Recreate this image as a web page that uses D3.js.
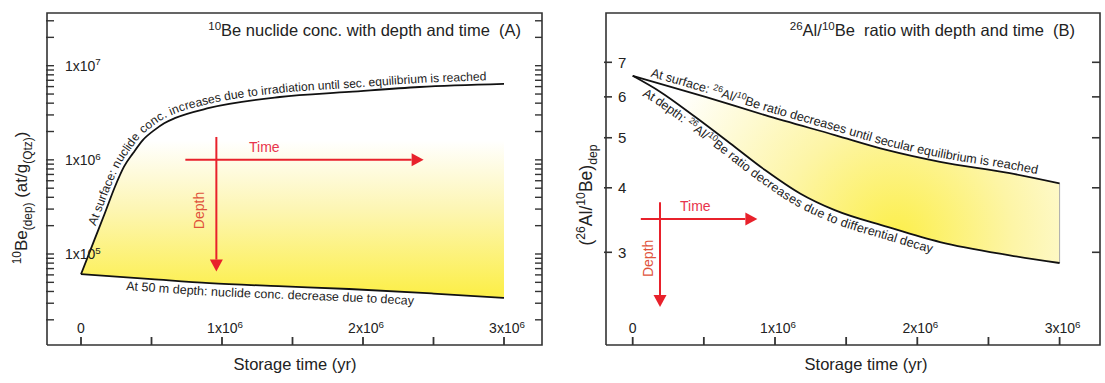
<!DOCTYPE html>
<html>
<head>
<meta charset="utf-8">
<script src="https://cdn.jsdelivr.net/npm/d3@7"></script>
<style>
  body { margin: 0; background: #fff; }
  svg { display: block; font-family: "Liberation Sans", Arial, sans-serif; }
  svg text { white-space: pre; }
</style>
</head>
<body>
<div id="chart"></div>
<script>
var W = 1105, H = 383;

// panel A: 10Be concentration (at/g) vs storage time (yr)
var surfTimeA = [0, 0.095e6, 0.169e6, 0.24e6, 0.305e6, 0.37e6, 0.44e6, 0.52e6, 0.59e6, 0.67e6, 0.91e6, 1.41e6, 1.9e6, 2.4e6, 3.0e6];
var surfBeA   = [6.1e4, 1.41e5, 2.71e5, 5.15e5, 8.47e5, 1.18e6, 1.63e6, 2.07e6, 2.45e6, 2.79e6, 3.56e6, 4.65e6, 5.26e6, 5.94e6, 6.4e6];
var depthTimeA = [0, 0.5e6, 0.91e6, 1.4e6, 1.9e6, 2.5e6, 3.0e6];
var depthBeA   = [6.1e4, 5.4e4, 4.9e4, 4.55e4, 4.25e4, 3.8e4, 3.42e4];
var fillTopA = 1.6e6;

// panel B: 26Al/10Be ratio vs storage time (yr)
var surfTimeB = [0, 0.511e6, 0.93e6, 1.42e6, 1.79e6, 2.16e6, 2.65e6, 3.0e6];
var surfRatioB = [6.59, 6.0, 5.53, 5.06, 4.73, 4.49, 4.27, 4.08];
var depthTimeB = [0, 0.192e6, 0.438e6, 0.684e6, 0.93e6, 1.176e6, 1.42e6, 1.79e6, 2.16e6, 2.65e6, 3.0e6];
var depthRatioB = [6.59, 6.14, 5.49, 4.88, 4.33, 3.90, 3.62, 3.36, 3.14, 2.96, 2.86];

var xTicks = [0, 0.5e6, 1e6, 1.5e6, 2e6, 2.5e6, 3e6];
var xLabels = [0, 1e6, 2e6, 3e6];
var yMajorA = [1e5, 1e6, 1e7];
var yTicksB = [3, 4, 5, 6, 7];

// arrows: [time, value] start/end
var timeArrowA = [[0.74e6, 1e6], [2.43e6, 1e6]];
var depthArrowA = [[0.96e6, 1.75e6], [0.96e6, 6.5e4]];
var timeArrowB = [[0.057e6, 3.48], [0.876e6, 3.48]];
var depthArrowB = [[0.192e6, 3.75], [0.192e6, 2.35]];

var svg = d3.select("#chart").append("svg")
    .attr("width", W)
    .attr("height", H);
var defs = svg.append("defs");

var red = "#e8212b";
var ink = "#222";

// rich text: parts = [[text, "sup"|"sub"|undefined], ...]
function rich(sel, parts, fs, base) {
    var shift = base || 0;
    var first = true;
    parts.forEach(function (p) {
        var target = (base || 0) + (p[1] === "sup" ? -fs * 0.38 : p[1] === "sub" ? fs * 0.3 : 0);
        var t = sel.append("tspan")
            .attr("font-size", p[1] ? fs * 0.7 : fs)
            .text(p[0]);
        t.attr("dy", first ? target : target - shift);
        first = false;
        shift = target;
    });
}

function measure(parts, fs) {
    var t = svg.append("text").attr("visibility", "hidden");
    rich(t, parts, fs, 0);
    var w = t.node().getComputedTextLength();
    t.remove();
    return w;
}

function frame(g, f) {
    g.append("path")
        .attr("d", "M" + f.l + "," + f.b + "V" + f.t + "H" + f.r + "V" + f.b + "H" + f.l)
        .attr("fill", "none")
        .attr("stroke", "#333")
        .attr("stroke-width", 1.6);
}

function xAxis(g, x, f, titleX) {
    g.selectAll(".xt").data(xTicks).enter().append("line")
        .attr("x1", function (d) { return x(d); })
        .attr("x2", function (d) { return x(d); })
        .attr("y1", f.b)
        .attr("y2", f.b - 8)
        .attr("stroke", "#333")
        .attr("stroke-width", 1.8);
    g.selectAll(".xl").data(xLabels).enter().append("text")
        .attr("x", function (d) { return x(d) + (d === 0 ? 0 : 3); })
        .attr("y", 333)
        .attr("text-anchor", "middle")
        .attr("fill", ink)
        .each(function (d) {
            var s = d3.select(this);
            if (d === 0) { s.attr("font-size", 14).text("0"); return; }
            rich(s, [[(d / 1e6) + "x10"], ["6", "sup"]], 14);
        });
    g.append("text")
        .attr("x", titleX)
        .attr("y", 370)
        .attr("text-anchor", "middle")
        .attr("font-size", 16.5)
        .attr("fill", ink)
        .text("Storage time (yr)");
}

function arrow(g, pts, x, y) {
    var p0 = [x(pts[0][0]), y(pts[0][1])];
    var p1 = [x(pts[1][0]), y(pts[1][1])];
    var dx = p1[0] - p0[0], dy = p1[1] - p0[1];
    var len = Math.sqrt(dx * dx + dy * dy);
    var ux = dx / len, uy = dy / len;
    var hl = 12, hw = 6.5;
    var bx = p1[0] - ux * hl, by = p1[1] - uy * hl;
    g.append("line")
        .attr("x1", p0[0]).attr("y1", p0[1])
        .attr("x2", bx).attr("y2", by)
        .attr("stroke", red)
        .attr("stroke-width", 2);
    g.append("path")
        .attr("d", "M" + p1[0] + "," + p1[1] +
            "L" + (bx - uy * hw) + "," + (by + ux * hw) +
            "L" + (bx + uy * hw) + "," + (by - ux * hw) + "Z")
        .attr("fill", red);
}

// text along a curve, word by word, sized so it covers targetLen px of the path
function curveLabel(g, id, pathD, parts, offset, base, targetLen) {
    defs.append("path").attr("id", id).attr("d", pathD);
    var fs = 12 * targetLen / measure(parts, 12);
    var sw = measure([["a a"]], fs) - measure([["aa"]], fs);

    var chunks = [], cur = [];
    parts.forEach(function (p) {
        var pieces = p[0].split(" ");
        pieces.forEach(function (s, i) {
            if (i > 0) { if (cur.length) chunks.push(cur); cur = []; }
            if (s.length) cur.push([s, p[1]]);
        });
    });
    if (cur.length) chunks.push(cur);

    var pos = offset;
    var lbl = g.append("g");
    chunks.forEach(function (c) {
        var tp = lbl.append("text").attr("fill", ink)
            .append("textPath")
            .attr("href", "#" + id)
            .attr("startOffset", pos);
        rich(tp, c, fs, base * fs / 12);
        pos += measure(c, fs) + sw;
    });
}

// ---------------- panel A ----------------
var fA = { l: 47, r: 542, t: 13, b: 345 };
var xA = d3.scaleLinear().domain([0, 3e6]).range([81, 504]);
var yA = d3.scaleLog().domain([1e5, 1e7]).range([254, 65.7]);
var gA = svg.append("g");

var surfA = surfTimeA.map(function (t, i) { return [t, surfBeA[i]]; });
var deepA = depthTimeA.map(function (t, i) { return [t, depthBeA[i]]; });

var lineA = d3.line()
    .x(function (d) { return xA(d[0]); })
    .y(function (d) { return yA(d[1]); })
    .curve(d3.curveMonotoneX);

var gradA = defs.append("linearGradient")
    .attr("id", "gradA")
    .attr("gradientUnits", "userSpaceOnUse")
    .attr("x1", 0).attr("x2", 0)
    .attr("y1", yA(fillTopA)).attr("y2", 292);
gradA.append("stop").attr("offset", 0).attr("stop-color", "#ffffff");
gradA.append("stop").attr("offset", 0.45).attr("stop-color", "#fdf6b4");
gradA.append("stop").attr("offset", 1).attr("stop-color", "#fcef4c");

defs.append("clipPath").attr("id", "clipTopA")
    .append("rect")
    .attr("x", xA(0)).attr("y", yA(fillTopA))
    .attr("width", xA(3e6) - xA(0)).attr("height", fA.b - yA(fillTopA));
defs.append("clipPath").attr("id", "clipDeepA")
    .append("path")
    .attr("d", d3.area()
        .x(function (d) { return xA(d[0]); })
        .y0(fA.t)
        .y1(function (d) { return yA(d[1]); })
        .curve(d3.curveMonotoneX)(deepA));

gA.append("g").attr("clip-path", "url(#clipTopA)")
    .append("g").attr("clip-path", "url(#clipDeepA)")
    .append("path")
    .attr("d", d3.area()
        .x(function (d) { return xA(d[0]); })
        .y0(fA.b)
        .y1(function (d) { return yA(d[1]); })
        .curve(d3.curveMonotoneX)(surfA))
    .attr("fill", "url(#gradA)");

gA.append("path").attr("d", lineA(surfA))
    .attr("fill", "none").attr("stroke", "#111").attr("stroke-width", 1.8);
gA.append("path").attr("d", lineA(deepA))
    .attr("fill", "none").attr("stroke", "#111").attr("stroke-width", 1.8);

frame(gA, fA);

// log ticks on both sides
var yTickA = yA.copy().domain([yA.invert(fA.b - 1), yA.invert(fA.t + 1)]).ticks();
[fA.l, fA.r].forEach(function (x0, k) {
    gA.selectAll(".yt" + k).data(yTickA).enter().append("line")
        .attr("x1", x0 - (k ? 0 : 1))
        .attr("x2", x0 + (k ? -7 : 7))
        .attr("y1", function (d) { return yA(d); })
        .attr("y2", function (d) { return yA(d); })
        .attr("stroke", "#333")
        .attr("stroke-width", 1.4);
});
gA.selectAll(".yl").data(yMajorA).enter().append("text")
    .attr("x", 65)
    .attr("y", function (d) { return yA(d) + 5; })
    .attr("fill", ink)
    .each(function (d) {
        rich(d3.select(this), [["1x10"], [String(Math.round(Math.log10(d))), "sup"]], 14);
    });

xAxis(gA, xA, fA, 295);

var titleA = gA.append("text")
    .attr("x", 521).attr("y", 36)
    .attr("text-anchor", "end")
    .attr("fill", ink);
rich(titleA, [["10", "sup"], ["Be nuclide conc. with depth and time  (A)"]], 16.5);

var ytA = gA.append("text")
    .attr("transform", "translate(27,198) rotate(-90)")
    .attr("text-anchor", "middle")
    .attr("fill", ink);
rich(ytA, [["10", "sup"], ["Be"], ["(dep)", "sub"], [" (at/g"], ["(Qtz)", "sub"], [")"]], 17);

arrow(gA, timeArrowA, xA, yA);
arrow(gA, depthArrowA, xA, yA);
gA.append("text")
    .attr("x", xA(1.3e6)).attr("y", yA(1e6) - 8)
    .attr("text-anchor", "middle")
    .attr("font-size", 14)
    .attr("fill", "#e8344c")
    .text("Time");
gA.append("text")
    .attr("transform", "translate(" + (xA(0.96e6) - 12) + "," + yA(2.9e5) + ") rotate(-90)")
    .attr("text-anchor", "middle")
    .attr("font-size", 14)
    .attr("fill", "#e0533c")
    .text("Depth");

curveLabel(gA, "pSurfA", lineA(surfA),
    [["At surface: nuclide conc. increases due to irradiation until sec. equilibrium is reached"]],
    50, -4, 452);
curveLabel(gA, "pDeepA", lineA(deepA),
    [["At 50 m depth: nuclide conc. decrease due to decay"]],
    46, 12, 288);

// ---------------- panel B ----------------
var fB = { l: 606, r: 1100, t: 13, b: 345 };
var xB = d3.scaleLinear().domain([0, 3e6]).range([632.7, 1059.6]);
var yB = d3.scaleLog().domain([3, 7]).range([252.3, 62.3]);
var gB = svg.append("g");

var surfB = surfTimeB.map(function (t, i) { return [t, surfRatioB[i]]; });
var deepB = depthTimeB.map(function (t, i) { return [t, depthRatioB[i]]; });

var lineB = d3.line()
    .x(function (d) { return xB(d[0]); })
    .y(function (d) { return yB(d[1]); })
    .curve(d3.curveMonotoneX);

var gradB = defs.append("radialGradient")
    .attr("id", "gradB")
    .attr("gradientUnits", "userSpaceOnUse")
    .attr("cx", xB(1.85e6)).attr("cy", yB(3.2))
    .attr("r", 260);
gradB.append("stop").attr("offset", 0).attr("stop-color", "#fcef4a");
gradB.append("stop").attr("offset", 0.45).attr("stop-color", "#fdf5a6");
gradB.append("stop").attr("offset", 1).attr("stop-color", "#ffffff");

defs.append("clipPath").attr("id", "clipDeepB")
    .append("path")
    .attr("d", d3.area()
        .x(function (d) { return xB(d[0]); })
        .y0(fB.t)
        .y1(function (d) { return yB(d[1]); })
        .curve(d3.curveMonotoneX)(deepB));

gB.append("g").attr("clip-path", "url(#clipDeepB)")
    .append("path")
    .attr("d", d3.area()
        .x(function (d) { return xB(d[0]); })
        .y0(fB.b)
        .y1(function (d) { return yB(d[1]); })
        .curve(d3.curveMonotoneX)(surfB))
    .attr("fill", "url(#gradB)");

gB.append("line")
    .attr("x1", xB(3e6)).attr("x2", xB(3e6))
    .attr("y1", yB(surfRatioB[surfRatioB.length - 1]))
    .attr("y2", yB(depthRatioB[depthRatioB.length - 1]))
    .attr("stroke", "#aaa")
    .attr("stroke-width", 1);

gB.append("path").attr("d", lineB(surfB))
    .attr("fill", "none").attr("stroke", "#111").attr("stroke-width", 1.8);
gB.append("path").attr("d", lineB(deepB))
    .attr("fill", "none").attr("stroke", "#111").attr("stroke-width", 1.8);

frame(gB, fB);

[fB.l, fB.r].forEach(function (x0, k) {
    gB.selectAll(".yt" + k).data(yTicksB).enter().append("line")
        .attr("x1", x0 + (k ? 0 : -2))
        .attr("x2", x0 + (k ? -8 : 6))
        .attr("y1", function (d) { return yB(d); })
        .attr("y2", function (d) { return yB(d); })
        .attr("stroke", "#333")
        .attr("stroke-width", 1.6);
});
gB.selectAll(".yl").data(yTicksB).enter().append("text")
    .attr("x", 618)
    .attr("y", function (d) { return yB(d) + 5.5; })
    .attr("font-size", 15)
    .attr("fill", ink)
    .text(function (d) { return d; });

xAxis(gB, xB, fB, 866);

var titleB = gB.append("text")
    .attr("x", 1075).attr("y", 36)
    .attr("text-anchor", "end")
    .attr("fill", ink);
rich(titleB, [["26", "sup"], ["Al/"], ["10", "sup"], ["Be  ratio with depth and time  (B)"]], 16.5);

var ytB = gB.append("text")
    .attr("transform", "translate(592,195) rotate(-90)")
    .attr("text-anchor", "middle")
    .attr("fill", ink);
rich(ytB, [["("], ["26", "sup"], ["Al/"], ["10", "sup"], ["Be)"], ["dep", "sub"]], 17.5);

arrow(gB, timeArrowB, xB, yB);
arrow(gB, depthArrowB, xB, yB);
gB.append("text")
    .attr("x", xB(0.44e6)).attr("y", yB(3.48) - 8)
    .attr("text-anchor", "middle")
    .attr("font-size", 14)
    .attr("fill", "#e8344c")
    .text("Time");
gB.append("text")
    .attr("transform", "translate(" + (xB(0.192e6) - 7) + "," + yB(2.92) + ") rotate(-90)")
    .attr("text-anchor", "middle")
    .attr("font-size", 14)
    .attr("fill", "#e0533c")
    .text("Depth");

curveLabel(gB, "pSurfB", lineB(surfB),
    [["At surface: "], ["26", "sup"], ["Al/"], ["10", "sup"], ["Be ratio decreases until secular equilibrium is reached"]],
    17, -4, 400);
curveLabel(gB, "pDeepB", lineB(deepB),
    [["At depth: "], ["26", "sup"], ["Al/"], ["10", "sup"], ["Be ratio decreases due to differential decay"]],
    18, 12, 330);
</script>
</body>
</html>
